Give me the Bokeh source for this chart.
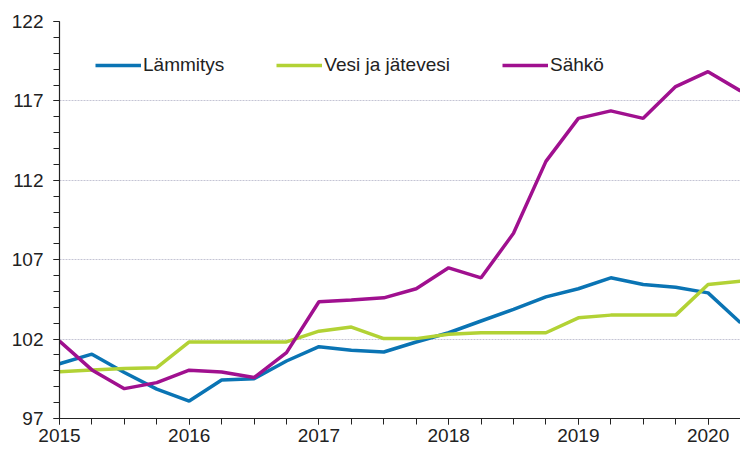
from bokeh.plotting import figure
from bokeh.models import FixedTicker, Legend, LegendItem, ColumnDataSource, Range1d
from bokeh.embed import file_html
from bokeh.resources import INLINE

quarters = ["2015Q1", "2015Q2", "2015Q3", "2015Q4",
            "2016Q1", "2016Q2", "2016Q3", "2016Q4",
            "2017Q1", "2017Q2", "2017Q3", "2017Q4",
            "2018Q1", "2018Q2", "2018Q3", "2018Q4",
            "2019Q1", "2019Q2", "2019Q3", "2019Q4",
            "2020Q1", "2020Q2"]

lammitys = [100.45, 101.05, 99.9, 98.85, 98.1, 99.43, 99.5, 100.62, 101.52, 101.3,
            101.19, 101.82, 102.4, 103.14, 103.87, 104.66, 105.17, 105.86, 105.44,
            105.27, 104.91, 103.03]
vesi = [99.95, 100.05, 100.15, 100.2, 101.82, 101.82, 101.82, 101.82, 102.5, 102.76,
        102.03, 102.03, 102.3, 102.4, 102.4, 102.4, 103.34, 103.51, 103.51, 103.51,
        105.44, 105.65]
sahko = [101.88, 100.06, 98.88, 99.26, 100.04, 99.93, 99.58, 101.15, 104.35, 104.46,
         104.6, 105.17, 106.49, 105.86, 108.66, 113.19, 115.9, 116.37, 115.9, 117.9,
         118.84, 117.63]

series_names = ["Lämmitys", "Vesi ja jätevesi", "Sähkö"]
series_colors = ["#0a74b4", "#b2d235", "#a0108f"]

year_ticks = [2015, 2016, 2017, 2018, 2019, 2020]
y_ticks = [97, 102, 107, 112, 117, 122]

x = [int(q[:4]) + (int(q[5]) - 1) / 4 for q in quarters]

p = figure(width=740, height=450, output_backend="svg", toolbar_location=None,
           x_range=Range1d(2015, 2020.25), y_range=Range1d(97, 122),
           min_border_left=59, min_border_right=0, min_border_top=21, min_border_bottom=32)
p.outline_line_color = None
p.background_fill_color = "white"
p.border_fill_color = "white"

renderers = []
for vals, name, col in zip([lammitys, vesi, sahko], series_names, series_colors):
    src = ColumnDataSource(dict(x=x, y=vals))
    r = p.line("x", "y", source=src, line_color=col, line_width=3.5)
    renderers.append(r)

# axes
p.xaxis.ticker = FixedTicker(ticks=year_ticks, minor_ticks=x)
p.yaxis.ticker = FixedTicker(ticks=y_ticks, minor_ticks=list(range(97, 123)))
for ax in (p.xaxis[0], p.yaxis[0]):
    ax.axis_line_color = "#222222"
    ax.axis_line_width = 1.2
    ax.major_tick_line_color = "#222222"
    ax.minor_tick_line_color = "#222222"
    ax.major_tick_in = 0
    ax.minor_tick_in = 0
    ax.major_tick_out = 6
    ax.minor_tick_out = 6
    ax.major_label_text_font = "Liberation Sans"
    ax.major_label_text_font_size = "19px"
    ax.major_label_text_color = "#222222"
p.xaxis.major_label_standoff = 4
p.yaxis.major_label_standoff = 10

p.xgrid.visible = False
p.ygrid.ticker = FixedTicker(ticks=y_ticks)
p.ygrid.grid_line_color = "#c4c4d4"
p.ygrid.grid_line_dash = "2 1"
p.ygrid.grid_line_width = 1

legend = Legend(items=[LegendItem(label=n, renderers=[r]) for n, r in zip(series_names, renderers)],
                orientation="horizontal", location="top_left")
legend.background_fill_alpha = 0
legend.border_line_color = None
legend.label_text_font = "Liberation Sans"
legend.label_text_font_size = "19px"
legend.label_text_color = "#222222"
legend.glyph_width = 46
legend.label_standoff = 2
legend.spacing = 52
legend.margin = 0
legend.padding = 0
legend.label_height = 20
legend.glyph_height = 20
legend.location = (36, 342)
p.add_layout(legend)

open("out.html", "w").write(file_html(p, INLINE))
